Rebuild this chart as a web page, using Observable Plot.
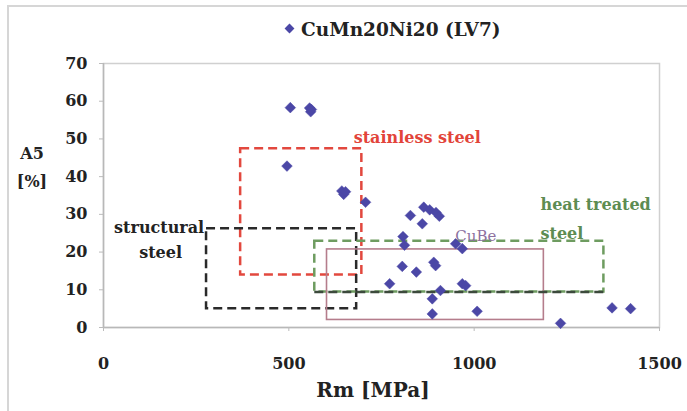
<!DOCTYPE html>
<html><head><meta charset="utf-8">
<script src="https://cdn.jsdelivr.net/npm/d3@7"></script>
<script src="https://cdn.jsdelivr.net/npm/@observablehq/plot@0.6"></script>
<style>
body{margin:0;background:#fff;}
#wrap{position:relative;width:687px;height:411px;overflow:hidden;font-family:"DejaVu Serif",serif;font-weight:bold;color:#222;}
#frame{position:absolute;left:7px;top:5px;width:700px;height:420px;border-left:2px solid #d6d6d6;border-top:2px solid #d6d6d6;}
#chart{position:absolute;left:0;top:0;}
#title{position:absolute;left:286px;top:19px;font-size:18.5px;white-space:nowrap;}
#title .dia{display:inline-block;width:7px;height:7px;background:#4b47a6;transform:rotate(45deg);margin-right:8px;vertical-align:4px;}
#ylab{position:absolute;left:12px;top:140px;width:40px;text-align:center;font-size:16px;line-height:28px;}
#xlab{position:absolute;left:273px;top:378px;width:200px;text-align:center;font-size:20px;}
</style></head><body>
<div id="wrap">
  <div id="frame"></div>
  <div id="chart"></div>
  <div id="title"><span class="dia"></span>CuMn20Ni20 (LV7)</div>
  <div id="ylab">A5<br>[%]</div>
  <div id="xlab">Rm [MPa]</div>
</div>
<script>
// measured points: CuMn20Ni20 (LV7)
const rm = [504, 556, 559, 561, 495, 643, 648, 653, 707, 828, 864, 880, 897, 906, 860, 808, 812, 950, 968, 806, 844, 891, 896, 772, 968, 977, 909, 887, 887, 1008, 1233, 1372, 1422];
const a5 = [58.3, 58.2, 57.2, 57.8, 42.8, 36.2, 35.3, 36.0, 33.2, 29.7, 31.9, 31.2, 30.5, 29.5, 27.5, 24.1, 21.8, 22.2, 20.9, 16.2, 14.7, 17.3, 16.4, 11.6, 11.6, 11.1, 9.8, 7.6, 3.6, 4.3, 1.1, 5.2, 5.0];

// material regions
const regionNames = ["stainless steel", "structural steel", "heat treated steel", "CuBe"];
const regionRmMin = [370, 278, 570, 603];
const regionRmMax = [697, 683, 1350, 1188];
const regionA5Min = [13.9, 5.0, 9.4, 2.0];
const regionA5Max = [47.4, 26.2, 22.9, 20.7];

// annotation labels
const labelTexts = ["stainless steel", "structural", "steel", "heat treated", "steel", "CuBe"];
const labelRegion = [0, 1, 1, 2, 2, 3];
const labelRm = [675, 150, 154, 1179, 1179, 949];
const labelA5 = [50.4, 26.5, 19.9, 32.4, 24.7, 24.1];

const xTicks = [0, 500, 1000, 1500];
const yTicks = [0, 10, 20, 30, 40, 50, 60, 70];

// styles
const regionStroke = ["#e2483e", "#2a2a2a", "#6e9c60", "#b57d8c"];
const regionDash = ["9,5", "9,5", "9,5", null];
const labelFill = ["#e2443a", "#222", "#222", "#5d8c52", "#5d8c52", "#8d72a0"];
const labelAnchor = ["start", "middle", "middle", "start", "start", "start"];
const labelWeight = ["bold", "bold", "bold", "bold", "bold", "normal"];

const points = rm.map((v, i) => ({rm: v, a5: a5[i]}));
const regions = regionNames.map((n, i) => ({name: n, x1: regionRmMin[i], x2: regionRmMax[i], y1: regionA5Min[i], y2: regionA5Max[i]}));
const labels = labelTexts.map((t, i) => ({text: t, rm: labelRm[i], a5: labelA5[i], r: labelRegion[i]}));

const marks = [
  Plot.frame({stroke: "#d0d0d0", strokeWidth: 1.5}),
  Plot.ruleX([0], {stroke: "#b8b8b8", strokeWidth: 1.5}),
  Plot.ruleY([0], {stroke: "#b8b8b8", strokeWidth: 1.5}),
  Plot.axisX({ticks: xTicks, tickFormat: d => String(d), tickSize: 4, tickPadding: 26, stroke: "#bbb", fontSize: 16, fontWeight: "bold", fill: "#222", label: null}),
  Plot.axisY({ticks: yTicks, tickFormat: d => String(d), tickSize: 4, tickPadding: 12, stroke: "#bbb", fontSize: 16, fontWeight: "bold", fill: "#222", label: null})
];
regions.forEach((r, i) => {
  marks.push(Plot.rect([r], {x1: "x1", x2: "x2", y1: "y1", y2: "y2", fill: "none",
    stroke: regionStroke[i], strokeWidth: regionDash[i] ? 2.5 : 1.6, strokeDasharray: regionDash[i] || undefined}));
});
// darker lower edge of heat treated steel box
marks.push(Plot.ruleY([regions[2]], {y: "y1", x1: "x1", x2: "x2", stroke: "#3c4a3c", strokeWidth: 2.5, strokeDasharray: "9,5"}));
marks.push(Plot.dot(points, {x: "rm", y: "a5", symbol: "diamond2", r: 4.8, fill: "#4b47a6", stroke: "#4b47a6", strokeWidth: 0.5}));
labels.forEach((l, i) => {
  marks.push(Plot.text([l], {x: "rm", y: "a5", text: "text", fill: labelFill[i], textAnchor: labelAnchor[i],
    fontSize: i === 5 ? 15 : 16, fontWeight: labelWeight[i], fontFamily: "DejaVu Serif"}));
});

const chart = Plot.plot({
  width: 687, height: 411,
  marginLeft: 103, marginRight: 28, marginTop: 63, marginBottom: 84,
  x: {domain: [0, 1500]},
  y: {domain: [0, 70]},
  style: {fontFamily: "DejaVu Serif", fontSize: "16px", fontWeight: "bold", color: "#222", background: "transparent"},
  marks
});
document.getElementById("chart").appendChild(chart);
</script>
</body></html>
